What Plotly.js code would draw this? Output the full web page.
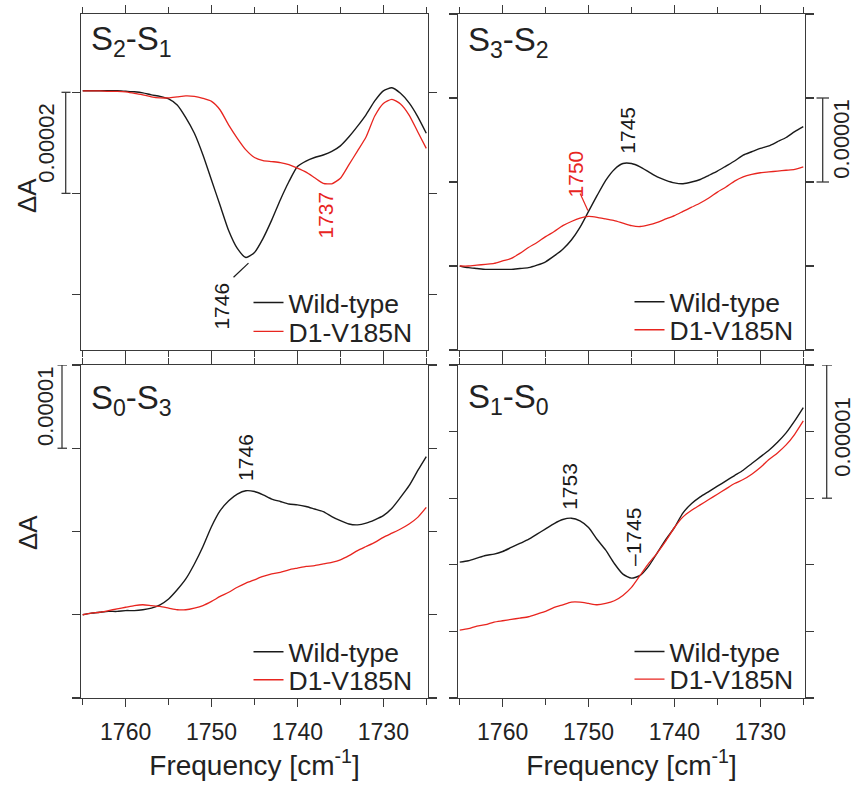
<!DOCTYPE html>
<html>
<head>
<meta charset="utf-8">
<script src="https://cdn.plot.ly/plotly-3.0.1.min.js"></script>
<style>html,body{margin:0;padding:0;background:#fff;}#chart{width:856px;height:785px;}</style>
</head>
<body>
<div id="chart"></div>
<script>
// Frequency axis [cm^-1]
const freq = [1765,1764,1763,1762,1761,1760,1759,1758,1757,1756,1755,1754,1753,1752,1751,1750,1749,1748,1747,1746,1745,1744,1743,1742,1741,1740,1739,1738,1737,1736,1735,1734,1733,1732,1731,1730,1729,1728,1727,1726,1725];

// ΔA values in units of 1e-5 (arbitrary offset per panel)
const s2s1_wt  = [0.03,0.03,0.03,0.03,0.03,0.02,0.01,-0.01,-0.05,-0.08,-0.13,-0.25,-0.50,-0.81,-1.24,-1.74,-2.24,-2.74,-3.09,-3.27,-3.17,-2.89,-2.53,-2.13,-1.77,-1.47,-1.36,-1.29,-1.24,-1.17,-1.06,-0.88,-0.67,-0.44,-0.17,0.03,0.09,-0.02,-0.21,-0.48,-0.81];
const s2s1_mut = [0.03,0.03,0.03,0.02,0.02,0.01,-0.02,-0.05,-0.09,-0.11,-0.11,-0.09,-0.07,-0.08,-0.12,-0.18,-0.35,-0.65,-0.91,-1.14,-1.29,-1.35,-1.37,-1.39,-1.43,-1.50,-1.58,-1.69,-1.80,-1.81,-1.70,-1.43,-1.16,-0.88,-0.47,-0.22,-0.14,-0.23,-0.45,-0.78,-1.11];

const s3s2_wt  = [0,-0.02,-0.03,-0.04,-0.04,-0.04,-0.04,-0.03,-0.02,0.01,0.05,0.12,0.20,0.31,0.46,0.65,0.84,1.02,1.15,1.22,1.22,1.18,1.12,1.06,1.02,0.99,0.98,1.00,1.03,1.08,1.13,1.19,1.25,1.32,1.36,1.40,1.43,1.48,1.53,1.60,1.66];
const s3s2_mut = [0,0,0.01,0.02,0.03,0.06,0.09,0.15,0.22,0.28,0.35,0.41,0.48,0.53,0.57,0.59,0.58,0.56,0.54,0.51,0.48,0.47,0.49,0.52,0.56,0.60,0.65,0.70,0.75,0.81,0.88,0.94,1.01,1.06,1.09,1.11,1.12,1.13,1.14,1.15,1.18];

const s0s3_wt  = [0.00,0.02,0.03,0.04,0.04,0.05,0.05,0.06,0.08,0.12,0.19,0.30,0.43,0.61,0.82,1.06,1.25,1.37,1.45,1.49,1.48,1.44,1.39,1.36,1.33,1.32,1.30,1.27,1.24,1.18,1.13,1.09,1.08,1.10,1.14,1.19,1.28,1.41,1.55,1.73,1.90];
const s0s3_mut = [0.00,0.02,0.03,0.05,0.07,0.09,0.11,0.12,0.11,0.10,0.08,0.06,0.06,0.08,0.11,0.16,0.22,0.27,0.33,0.38,0.42,0.46,0.49,0.51,0.54,0.56,0.58,0.59,0.61,0.63,0.66,0.71,0.77,0.82,0.87,0.93,0.98,1.03,1.09,1.17,1.29];

const s1s0_wt  = [0.52,0.53,0.55,0.57,0.58,0.60,0.63,0.66,0.69,0.73,0.77,0.81,0.84,0.85,0.83,0.78,0.69,0.61,0.51,0.43,0.40,0.42,0.49,0.59,0.69,0.78,0.89,0.96,1.01,1.05,1.09,1.13,1.17,1.21,1.26,1.31,1.36,1.42,1.49,1.58,1.68];
const s1s0_mut = [0.01,0.02,0.04,0.05,0.07,0.08,0.09,0.10,0.11,0.13,0.15,0.18,0.20,0.22,0.22,0.21,0.20,0.21,0.23,0.27,0.33,0.42,0.51,0.59,0.68,0.78,0.86,0.91,0.95,0.99,1.03,1.07,1.11,1.14,1.18,1.23,1.29,1.34,1.40,1.48,1.58];

const seriesNames = ["Wild-type", "D1-V185N"];
const panelLabels = ["S<sub>2</sub>-S<sub>1</sub>", "S<sub>3</sub>-S<sub>2</sub>", "S<sub>0</sub>-S<sub>3</sub>", "S<sub>1</sub>-S<sub>0</sub>"];
const xTickVals = [1760, 1750, 1740, 1730];
const scaleLabels = ["0.00002", "0.00001", "0.00001", "0.00001"];

const W = 856, H = 785;
const px = x => x / W;
const py = y => 1 - y / H;
const FONT = "Liberation Sans, Arial, sans-serif";
const BLACK = "#1a1a1a", RED = "#e8251f", AX = "#3a3a3a";

// each series gets its own legend entry box (wild-type row, mutant row) per panel
const panels = [
  {wt: s2s1_wt, mut: s2s1_mut, xa: "x",  ya: "y",  lg: ["legend",  "legend5"]},
  {wt: s3s2_wt, mut: s3s2_mut, xa: "x2", ya: "y2", lg: ["legend2", "legend6"]},
  {wt: s0s3_wt, mut: s0s3_mut, xa: "x3", ya: "y3", lg: ["legend3", "legend7"]},
  {wt: s1s0_wt, mut: s1s0_mut, xa: "x4", ya: "y4", lg: ["legend4", "legend8"]}
];

const traces = [];
panels.forEach(p => {
  traces.push({x: freq, y: p.wt, xaxis: p.xa, yaxis: p.ya, legend: p.lg[0], name: seriesNames[0],
    type: "scatter", mode: "lines", line: {color: BLACK, width: 1.4, shape: "spline", smoothing: 0.6}});
  traces.push({x: freq, y: p.mut, xaxis: p.xa, yaxis: p.ya, legend: p.lg[1], name: seriesNames[1],
    type: "scatter", mode: "lines", line: {color: RED, width: 1.3, shape: "spline", smoothing: 0.6}});
});

function xaxis(domain, anchor, labels) {
  return {
    domain: domain, anchor: anchor, range: [1765.2, 1724.8], autorange: false,
    showline: true, linecolor: AX, linewidth: 1.3, mirror: "ticks",
    ticks: "outside", ticklen: 8, tickwidth: 1.3, tickcolor: AX,
    tickmode: "array", tickvals: xTickVals, showticklabels: labels,
    tickfont: {family: FONT, size: 23, color: "#222"}, ticklabelstandoff: 5,
    minor: {dtick: 5, tick0: 1725, ticks: "outside", ticklen: 6, tickwidth: 1.3, tickcolor: AX, showgrid: false},
    showgrid: false, zeroline: false, automargin: false,
    title: labels ? {text: "Frequency [cm<sup>-1</sup>]", font: {family: FONT, size: 28, color: "#222"}, standoff: 7} : {text: ""}
  };
}
function yaxis(domain, anchor, range, dtick) {
  return {
    domain: domain, anchor: anchor, range: range, autorange: false,
    showline: true, linecolor: AX, linewidth: 1.3, mirror: "ticks",
    ticks: "outside", ticklen: 8, tickwidth: 1.3, tickcolor: AX,
    tick0: 0, dtick: dtick, showticklabels: false,
    showgrid: false, zeroline: false, automargin: false
  };
}

const dxL = [px(81), px(428)], dxR = [px(458), px(805)];
const dyT = [py(350), py(14)], dyB = [py(698), py(365)];

function legend(textStart, yMid) {
  return {x: px(textStart - 40.5), y: py(yMid), xanchor: "left", yanchor: "middle", bgcolor: "rgba(0,0,0,0)",
    font: {family: FONT, size: 26.5, color: "#222"}, tracegroupgap: 0, itemwidth: 30};
}

const ann = [];
// panel labels
const labelPos = [[89, 41], [466, 42], [89, 400], [466, 399]];
panelLabels.forEach((t, i) => ann.push({text: t, xref: "paper", yref: "paper", x: px(labelPos[i][0]), y: py(labelPos[i][1]),
  xanchor: "left", yanchor: "middle", showarrow: false, font: {family: FONT, size: 33, color: "#222"}}));
// scale bar labels
const scalePos = [[46.7, 143], [841.7, 139], [45, 406], [841.7, 437]];
scaleLabels.forEach((t, i) => ann.push({text: t, xref: "paper", yref: "paper", x: px(scalePos[i][0]), y: py(scalePos[i][1]),
  xanchor: "center", yanchor: "middle", textangle: -90, showarrow: false, font: {family: FONT, size: 22, color: "#222"}}));
// ΔA labels
[[27, 195], [28, 532]].forEach(p => ann.push({text: "ΔA", xref: "paper", yref: "paper", x: px(p[0]), y: py(p[1]),
  xanchor: "center", yanchor: "middle", textangle: -90, showarrow: false, font: {family: FONT, size: 26, color: "#222"}}));
// peak labels (data coordinates)
const peaks = [
  {t: "1746", x: 1748.95, y: -4.23, xr: "x", yr: "y", c: BLACK},
  {t: "1737", x: 1736.74, y: -2.43, xr: "x", yr: "y", c: RED},
  {t: "1745", x: 1745.43, y: 1.62, xr: "x2", yr: "y2", c: BLACK},
  {t: "1750", x: 1751.48, y: 1.10, xr: "x2", yr: "y2", c: RED},
  {t: "1746", x: 1746.05, y: 1.89, xr: "x3", yr: "y3", c: BLACK},
  {t: "1753", x: 1752.2, y: 1.09, xr: "x4", yr: "y4", c: BLACK},
  {t: "–1745", x: 1744.69, y: 0.71, xr: "x4", yr: "y4", c: BLACK}
];
peaks.forEach(p => ann.push({text: p.t, xref: p.xr, yref: p.yr, x: p.x, y: p.y, textangle: -90, showarrow: false,
  xanchor: "center", yanchor: "middle", font: {family: FONT, size: 21, color: p.c}}));

const shapes = [];
function scaleBar(xc, capL, capR, yref, y0, y1) {
  const L = {color: AX, width: 1.3};
  shapes.push({type: "line", xref: "paper", yref: yref, x0: px(xc), x1: px(xc), y0: y0, y1: y1, line: L});
  shapes.push({type: "line", xref: "paper", yref: yref, x0: px(capL), x1: px(capR), y0: y0, y1: y0, line: L});
  shapes.push({type: "line", xref: "paper", yref: yref, x0: px(capL), x1: px(capR), y0: y1, y1: y1, line: L});
}
scaleBar(65.7, 61.5, 70.5, "y", 0, -2);
scaleBar(822.7, 816.5, 829, "y2", 1, 2);
scaleBar(62, 57.5, 67, "y3", 2, 3);
scaleBar(826.7, 822, 832, "y4", 1, 2);
// leader lines
shapes.push({type: "line", xref: "x", yref: "y", x0: 1747.44, y0: -3.66, x1: 1745.70, y1: -3.38, line: {color: BLACK, width: 1.2}});
shapes.push({type: "line", xref: "x2", yref: "y2", x0: 1750.98, y0: 0.864, x1: 1750.08, y1: 0.66, line: {color: RED, width: 1.2}});

const layout = {
  width: W, height: H, margin: {l: 0, r: 0, t: 0, b: 0},
  paper_bgcolor: "#fff", plot_bgcolor: "#fff", font: {family: FONT, color: "#222"},
  showlegend: true,
  xaxis: xaxis(dxL, "y", false), yaxis: yaxis(dyT, "x", [-5.10, 1.55], 2),
  xaxis2: xaxis(dxR, "y2", false), yaxis2: yaxis(dyT, "x2", [-1.0, 3.0], 1),
  xaxis3: xaxis(dxL, "y3", true), yaxis3: yaxis(dyB, "x3", [-1.0, 3.0], 1),
  xaxis4: xaxis(dxR, "y4", true), yaxis4: yaxis(dyB, "x4", [-0.5, 2.0], 0.5),
  legend: legend(289, 302.7), legend5: legend(289, 331.7),
  legend2: legend(670, 302), legend6: legend(670, 330),
  legend3: legend(289, 652), legend7: legend(289, 680),
  legend4: legend(670, 651.7), legend8: legend(670, 679.3),
  annotations: ann, shapes: shapes
};

Plotly.newPlot("chart", traces, layout, {staticPlot: true, displayModeBar: false});
</script>
</body>
</html>
